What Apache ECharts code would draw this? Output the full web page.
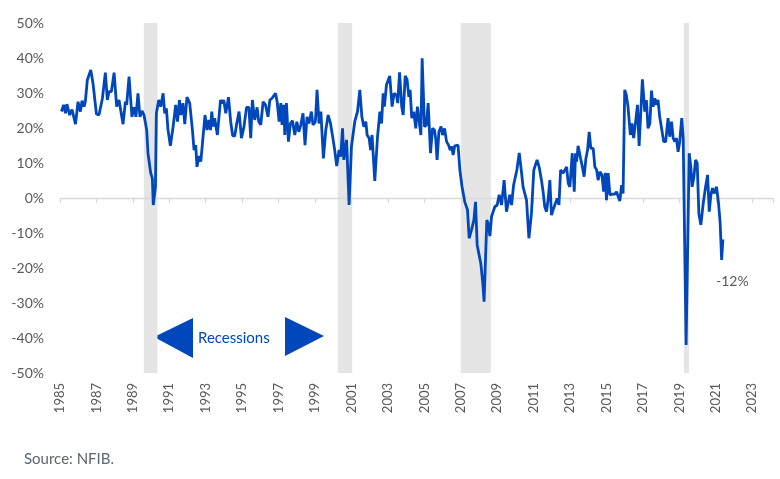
<!DOCTYPE html>
<html>
<head>
<meta charset="utf-8">
<script src="https://cdn.jsdelivr.net/npm/echarts@6/dist/echarts.min.js"></script>
<style>
  html, body { margin: 0; padding: 0; background: #fff; }
  #chart { width: 780px; height: 479px; }
</style>
</head>
<body>
<div id="chart"></div>
<script>
// decimal years, placed as on the original chart's date axis
const dates = [
  1985.08, 1985.20, 1985.30, 1985.38, 1985.53, 1985.66, 1985.85, 1985.99, 1986.12, 1986.21,
  1986.32, 1986.39, 1986.50, 1986.69, 1986.81, 1987.00, 1987.14, 1987.22, 1987.33, 1987.49,
  1987.60, 1987.69, 1987.82, 1987.97, 1988.11, 1988.24, 1988.46, 1988.59, 1988.66, 1988.79,
  1988.95, 1989.06, 1989.17, 1989.28, 1989.39, 1989.50, 1989.61, 1989.76, 1989.83, 1989.98,
  1990.07, 1990.12, 1990.24, 1990.29, 1990.42, 1990.53, 1990.66, 1990.75, 1990.84, 1990.93,
  1991.06, 1991.21, 1991.35, 1991.45, 1991.56, 1991.63, 1991.75, 1991.85, 1991.97, 1992.12,
  1992.27, 1992.36, 1992.45, 1992.52, 1992.63, 1992.73, 1992.82, 1992.96, 1993.07, 1993.17,
  1993.26, 1993.33, 1993.42, 1993.49, 1993.64, 1993.81, 1993.92, 1993.99, 1994.10, 1994.25,
  1994.37, 1994.48, 1994.59, 1994.72, 1994.83, 1994.96, 1995.10, 1995.24, 1995.37, 1995.47,
  1995.56, 1995.69, 1995.82, 1995.91, 1996.02, 1996.15, 1996.28, 1996.42, 1996.52, 1996.64,
  1996.73, 1996.83, 1996.92, 1997.03, 1997.12, 1997.19, 1997.28, 1997.34, 1997.43, 1997.54,
  1997.65, 1997.76, 1997.89, 1998.00, 1998.11, 1998.22, 1998.34, 1998.45, 1998.56, 1998.67,
  1998.80, 1998.89, 1999.02, 1999.11, 1999.22, 1999.32, 1999.46, 1999.59, 1999.72, 1999.85,
  1999.98, 2000.08, 2000.19, 2000.32, 2000.41, 2000.51, 2000.58, 2000.73, 2000.87, 2001.00,
  2001.18, 2001.33, 2001.46, 2001.57, 2001.68, 2001.79, 2001.86, 2001.97, 2002.05, 2002.13,
  2002.28, 2002.43, 2002.56, 2002.65, 2002.74, 2002.81, 2002.92, 2003.10, 2003.23, 2003.34,
  2003.47, 2003.54, 2003.64, 2003.76, 2003.84, 2003.95, 2004.05, 2004.15, 2004.22, 2004.31,
  2004.42, 2004.53, 2004.62, 2004.71, 2004.81, 2004.88, 2005.01, 2005.12, 2005.21, 2005.34,
  2005.45, 2005.56, 2005.63, 2005.70, 2005.80, 2005.92, 2006.00, 2006.11, 2006.22, 2006.33,
  2006.42, 2006.51, 2006.58, 2006.67, 2006.85, 2006.95, 2007.07, 2007.22, 2007.37, 2007.46,
  2007.59, 2007.72, 2007.81, 2007.90, 2007.99, 2008.10, 2008.21, 2008.28, 2008.34, 2008.43,
  2008.50, 2008.60, 2008.69, 2008.78, 2008.87, 2009.00, 2009.11, 2009.24, 2009.38, 2009.51,
  2009.60, 2009.69, 2009.79, 2009.90, 2010.08, 2010.21, 2010.34, 2010.42, 2010.52, 2010.61,
  2010.74, 2010.88, 2011.01, 2011.10, 2011.19, 2011.30, 2011.43, 2011.52, 2011.61, 2011.71,
  2011.80, 2011.89, 2011.98, 2012.07, 2012.16, 2012.29, 2012.39, 2012.48, 2012.62, 2012.68,
  2012.81, 2012.90, 2012.99, 2013.12, 2013.23, 2013.30, 2013.36, 2013.44, 2013.58, 2013.69,
  2013.77, 2013.87, 2013.96, 2014.05, 2014.14, 2014.27, 2014.36, 2014.46, 2014.54, 2014.64,
  2014.75, 2014.84, 2014.93, 2015.00, 2015.09, 2015.19, 2015.31, 2015.46, 2015.55, 2015.64,
  2015.73, 2015.83, 2015.91, 2016.00, 2016.09, 2016.18, 2016.31, 2016.40, 2016.49, 2016.60,
  2016.70, 2016.79, 2016.88, 2016.97, 2017.10, 2017.19, 2017.28, 2017.38, 2017.47, 2017.56,
  2017.65, 2017.74, 2017.83, 2017.92, 2018.01, 2018.14, 2018.25, 2018.38, 2018.47, 2018.57,
  2018.66, 2018.75, 2018.84, 2018.93, 2019.02, 2019.13, 2019.21, 2019.37, 2019.54, 2019.63,
  2019.70, 2019.80, 2019.89, 2019.98, 2020.07, 2020.18, 2020.31, 2020.44, 2020.55, 2020.64,
  2020.73, 2020.82, 2020.91, 2021.04, 2021.15, 2021.24, 2021.32, 2021.39
]

// percent
const values = [
  24.7, 26.6, 24.2, 26.8, 23.7, 25.3, 21.1, 27.5, 24.7, 27.8,
  26.1, 27.5, 33.7, 36.6, 32.8, 24.0, 23.7, 23.2, 28.5, 35.8,
  28.0, 30.4, 30.4, 35.8, 26.1, 28.0, 21.1, 27.5, 26.6, 34.7,
  23.2, 25.9, 23.2, 29.9, 23.2, 24.9, 23.7, 19.4, 12.8, 7.1,
  5.6, -2.0, 3.2, 24.2, 28.0, 26.1, 29.9, 24.2, 25.6, 19.4,
  14.9, 20.4, 26.6, 21.8, 28.0, 23.7, 27.1, 21.1, 28.8, 27.1,
  19.4, 13.7, 15.1, 8.9, 12.0, 10.4, 10.1, 23.7, 19.4, 22.3,
  19.4, 24.7, 20.4, 22.8, 18.0, 28.0, 27.1, 28.0, 24.2, 28.8,
  21.8, 17.8, 17.7, 21.8, 24.7, 17.1, 20.4, 25.9, 25.9, 17.1,
  28.0, 22.3, 25.9, 21.8, 20.9, 27.5, 26.6, 23.2, 28.0, 28.5,
  28.0, 29.9, 27.5, 21.8, 27.1, 20.9, 26.6, 18.0, 27.1, 16.1,
  21.3, 22.1, 18.0, 21.8, 18.9, 20.9, 24.2, 15.1, 23.2, 21.3,
  24.7, 20.9, 21.8, 30.9, 21.3, 24.7, 11.3, 19.4, 23.7, 21.3,
  17.1, 13.7, 9.1, 13.7, 11.8, 19.9, 10.9, 16.6, -2.0, 14.7,
  21.8, 24.7, 30.9, 23.2, 20.4, 21.8, 18.0, 17.1, 13.7, 18.0,
  4.9, 17.5, 24.7, 21.3, 29.9, 26.1, 32.3, 34.9, 26.1, 29.9,
  29.4, 27.1, 35.9, 26.1, 23.7, 34.9, 33.9, 28.9, 30.9, 22.8,
  24.7, 19.9, 26.1, 26.6, 18.0, 39.9, 20.4, 20.9, 27.1, 12.8,
  19.9, 19.4, 16.6, 10.9, 18.9, 20.4, 18.0, 19.9, 16.1, 15.1,
  13.7, 14.7, 12.3, 14.9, 15.1, 8.0, 3.2, -1.1, -3.4, -11.5,
  -9.1, -6.3, -1.1, -13.4, -13.9, -18.7, -24.4, -29.6, -29.6, -6.3,
  -7.2, -10.9, -5.3, -5.1, -2.5, -2.0, 0.9, -2.0, 5.1, -3.9,
  -3.9, 0.9, -2.0, 3.7, 8.0, 12.9, 7.1, 3.2, 2.8, -0.6,
  -11.5, -4.4, 8.0, 8.0, 10.9, 8.9, 5.1, 1.8, -2.5, -3.9,
  -0.1, 5.1, -4.9, -3.4, -2.9, -0.1, -2.0, 8.0, 7.1, 7.5,
  8.9, 4.2, 3.2, 12.8, 1.8, 12.8, 10.4, 14.9, 11.3, 8.5,
  6.1, 11.3, 13.7, 18.9, 14.2, 14.2, 8.9, 8.0, 5.1, 7.5,
  6.6, 1.8, 7.2, -0.6, 7.1, 0.9, 1.1, 1.1, 1.8, 1.3,
  -0.9, 3.7, 1.3, 30.9, 29.4, 26.1, 18.0, 21.3, 17.1, 21.8,
  26.6, 14.9, 24.2, 33.9, 24.7, 28.0, 19.9, 21.3, 30.7, 26.1,
  28.5, 26.6, 28.0, 23.2, 23.2, 16.1, 16.1, 22.8, 17.5, 21.8,
  17.1, 16.1, 17.1, 13.2, 16.1, 22.8, 17.1, -42.0, 12.8, 8.9,
  3.2, 6.1, 10.9, 9.9, -4.4, -7.7, -1.5, 3.2, 6.6, -3.9,
  0.9, 2.8, 1.3, 3.2, -1.5, -7.2, -17.7, -11.8
]

const recessions = [
  [1989.60, 1990.35],
  [2000.25, 2001.04],
  [2007.00, 2008.65],
  [2019.25, 2019.53]
]

const firstYear = 1985
const lastLabel = '-12%'

const blue = '#0047bb'
const grey = '#595959'
const font = 'Lato, "Noto Sans", sans-serif'

const chart = echarts.init(document.getElementById('chart'), null, { renderer: 'canvas' })

// x values are counted from 1985 so that ticks start on min
const seriesData = dates.map((d, i) => [d - firstYear, values[i]])
const areas = recessions.map(r => [{ xAxis: r[0] - firstYear }, { xAxis: r[1] - firstYear }])

const xBase = {
  type: 'value',
  min: 0,
  max: 39.14,
  interval: 2,
  splitLine: { show: false }
}

chart.setOption({
  animation: false,
  backgroundColor: '#fff',
  grid: [
    { left: 60, right: 7, top: 23, bottom: 106 },
    // upper half only, so its bottom edge sits on the 0% level
    { left: 60, right: 7, top: 23, bottom: 281 }
  ],
  xAxis: [
    Object.assign({}, xBase, {
      gridIndex: 0,
      position: 'bottom',
      axisLine: { show: false },
      axisTick: { show: false },
      axisLabel: {
        rotate: 90,
        margin: 10,
        color: grey,
        fontFamily: font,
        fontSize: 13,
        formatter: v => (Math.abs(v - Math.round(v)) < 1e-6 ? String(firstYear + Math.round(v)) : '')
      }
    }),
    Object.assign({}, xBase, {
      gridIndex: 1,
      position: 'bottom',
      axisLine: { onZero: false, lineStyle: { color: '#d9d9d9', width: 1.3 } },
      axisTick: { show: true, length: 5, lineStyle: { color: '#d9d9d9', width: 1.3 } },
      axisLabel: { show: false },
      z: 5
    })
  ],
  yAxis: [
    {
      gridIndex: 0,
      type: 'value',
      min: -50,
      max: 50,
      interval: 10,
      axisLine: { show: false },
      axisTick: { show: false },
      splitLine: { show: false },
      axisLabel: {
        margin: 16,
        color: grey,
        fontFamily: font,
        fontSize: 14,
        formatter: '{value}%'
      }
    },
    {
      gridIndex: 1,
      type: 'value',
      min: 0,
      max: 1,
      show: false
    }
  ],
  series: [{
    type: 'line',
    xAxisIndex: 0,
    yAxisIndex: 0,
    data: seriesData,
    showSymbol: false,
    lineStyle: { color: blue, width: 2.8 },
    itemStyle: { color: blue },
    markArea: {
      silent: true,
      itemStyle: { color: '#e5e5e5' },
      data: areas
    },
    z: 6
  }],
  graphic: [
    { type: 'polygon', shape: { points: [[154, 337], [193, 318], [193, 358]] }, style: { fill: blue } },
    { type: 'polygon', shape: { points: [[285, 317], [285, 356], [324, 336]] }, style: { fill: blue } },
    {
      type: 'text', left: 198, top: 331,
      style: { text: 'Recessions', fill: blue, font: '15px ' + font }
    },
    {
      type: 'text', left: 716, top: 274,
      style: { text: lastLabel, fill: grey, font: '14px ' + font }
    },
    {
      type: 'text', left: 24, top: 452,
      style: { text: 'Source: NFIB.', fill: '#5b6670', font: '15px ' + font }
    }
  ]
})
</script>
</body>
</html>
